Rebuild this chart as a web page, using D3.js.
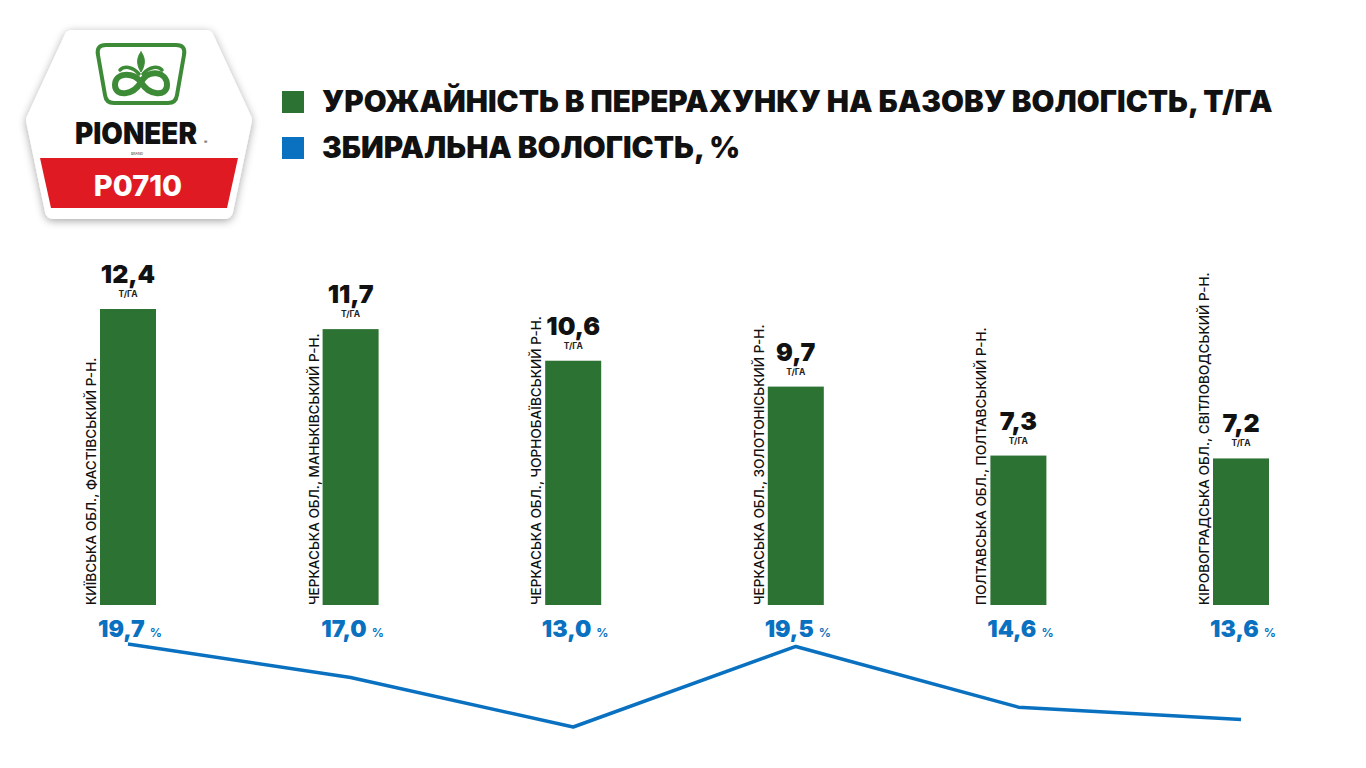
<!DOCTYPE html>
<html lang="uk">
<head>
  <meta charset="utf-8" />
  <title>P0710 — урожайність</title>
  <script src="https://cdn.jsdelivr.net/npm/d3@7/dist/d3.min.js"></script>
  <style>
    html,body{margin:0;padding:0;background:#fff;}
    svg{display:block;}
    text{font-family:Inter,"Noto Sans",sans-serif;}
  </style>
</head>
<body>
<svg id="chart" width="1366" height="768"></svg>
<script>
// дані
const regions = [
  'КИЇВСЬКА ОБЛ., ФАСТІВСЬКИЙ Р-Н.',
  'ЧЕРКАСЬКА ОБЛ., МАНЬКІВСЬКИЙ Р-Н.',
  'ЧЕРКАСЬКА ОБЛ., ЧОРНОБАЇВСЬКИЙ Р-Н.',
  'ЧЕРКАСЬКА ОБЛ., ЗОЛОТОНІСЬКИЙ Р-Н.',
  'ПОЛТАВСЬКА ОБЛ., ПОЛТАВСЬКИЙ Р-Н.',
  'КІРОВОГРАДСЬКА ОБЛ., СВІТЛОВОДСЬКИЙ Р-Н.'
];
const yieldVals = [12.4, 11.7, 10.6, 9.7, 7.3, 7.2];
const moisture  = [19.7, 17.0, 13.0, 19.5, 14.6, 13.6];
const legendLabels = ['УРОЖАЙНІСТЬ В ПЕРЕРАХУНКУ НА БАЗОВУ ВОЛОГІСТЬ, Т/ГА', 'ЗБИРАЛЬНА ВОЛОГІСТЬ, %'];
const yieldUnit = 'Т/ГА';
const moistUnit = '%';

const GREEN = '#2c7232', BLUE = '#0a71c0';
const svg = d3.select('#chart');
const fmt = d3.formatLocale({decimal: ',', thousands: ' ', grouping: [3], currency: ['', '']}).format('.1f');

// ----- логотип -----
const defs = svg.append('defs');
const f = defs.append('filter').attr('id','sh').attr('x','-20%').attr('y','-20%').attr('width','140%').attr('height','140%');
f.append('feDropShadow').attr('dx',0).attr('dy',2).attr('stdDeviation',4).attr('flood-color','#000').attr('flood-opacity',0.35);

const logo = svg.append('g');
logo.append('path')
  .attr('d','M72,38 L206,38 L244,120 L225,211 L53,211 L34,120 Z')
  .attr('fill','#fff').attr('stroke','#fff').attr('stroke-width',16).attr('stroke-linejoin','round')
  .attr('filter','url(#sh)');
logo.append('path')
  .attr('d','M40,158 L238,158 L227,208 L51,208 Z')
  .attr('fill','#e01a22');
// емблема
logo.append('path')
  .attr('d','M106,45 L176,45 Q186,45 184,55 L177,95 Q176,103 168,103 L114,103 Q106,103 105,95 L98,55 Q96,45 106,45 Z')
  .attr('fill','none').attr('stroke','#3d8b37').attr('stroke-width',4);
const em = logo.append('g').attr('fill','none').attr('stroke','#3d8b37').attr('stroke-linecap','round');
em.append('path').attr('d','M141,82 C133,72 115,72 115,85 C115,97 133,96 141,82 C149,68 167,72 167,85 C167,97 149,96 141,82 Z').attr('stroke-width',6);
em.append('path').attr('d','M141,52 C136,58 137,66 141,72 C145,66 146,58 141,52 Z').attr('fill','#3d8b37').attr('stroke-width',1);
em.append('path').attr('d','M139,74 C132,66 124,66 120,70').attr('stroke-width',3.5);
em.append('path').attr('d','M143,74 C150,66 158,66 162,70').attr('stroke-width',3.5);
logo.append('text').attr('x',136).attr('y',144).attr('text-anchor','middle')
  .attr('font-size',30).attr('font-weight',900).attr('fill','#111')
  .attr('textLength',122).attr('lengthAdjust','spacingAndGlyphs').text('PIONEER');
logo.append('text').attr('x',204).attr('y',144).attr('font-size',5).attr('fill','#111').text('®');
logo.append('text').attr('x',137).attr('y',155).attr('text-anchor','middle').attr('font-size',3.5).attr('fill','#333').text('BRAND');
logo.append('text').attr('x',138).attr('y',196).attr('text-anchor','middle')
  .attr('font-size',29).attr('font-weight',800).attr('fill','#fff').text('P0710');

// ----- легенда -----
const legend = svg.append('g').selectAll('g').data(legendLabels).join('g')
  .attr('transform',(d,i)=>`translate(282,${91 + i*46})`);
legend.append('rect').attr('width',22).attr('height',22).attr('fill',(d,i)=>i ? BLUE : GREEN);
legend.append('text').attr('x',40).attr('y',21)
  .attr('font-size',29.6).attr('font-weight',900).attr('fill','#111').text(d=>d);

// ----- шкали -----
const x = d3.scalePoint().domain(regions).range([128, 1241]);
const barW = 56;
const y = d3.scaleLinear().domain([2.1, 12.4]).range([605, 309]);
const yM = d3.scaleLinear().domain([13.0, 19.7]).range([727, 644]);

const rows = regions.map((r,i)=>({r, v: yieldVals[i], m: moisture[i]}));

// стовпці
svg.append('g').selectAll('rect').data(rows).join('rect')
  .attr('x',d=>x(d.r)-barW/2).attr('width',barW)
  .attr('y',d=>y(d.v)).attr('height',d=>y.range()[0]-y(d.v))
  .attr('fill',GREEN);

// підписи значень
const vl = svg.append('g').selectAll('g').data(rows).join('g')
  .attr('transform',d=>`translate(${x(d.r)},${y(d.v)})`);
vl.append('text').attr('y',-26).attr('text-anchor','middle')
  .attr('font-size',25).attr('font-weight',900).attr('fill','#111').text(d=>fmt(d.v));
vl.append('text').attr('y',-12).attr('text-anchor','middle')
  .attr('font-size',8.5).attr('font-weight',700).attr('fill','#222').text(yieldUnit);

// назви районів (вертикально)
svg.append('g').selectAll('text').data(rows).join('text')
  .attr('transform',d=>`translate(${x(d.r)-barW/2-4},${y.range()[0]}) rotate(-90)`)
  .attr('font-size',13.6).attr('font-weight',500).attr('fill','#111').text(d=>d.r);

// вологість: підписи
const ml = svg.append('g').selectAll('text').data(rows).join('text')
  .attr('x',d=>x(d.r)+2).attr('y',637).attr('text-anchor','middle').attr('fill',BLUE);
ml.append('tspan').attr('font-size',23).attr('font-weight',900).text(d=>fmt(d.m));
ml.append('tspan').attr('font-size',12).attr('font-weight',700).attr('dx',5).text(moistUnit);

// вологість: лінія
svg.append('path').datum(rows)
  .attr('d',d3.line().x(d=>x(d.r)).y(d=>yM(d.m)))
  .attr('fill','none').attr('stroke',BLUE).attr('stroke-width',3.5).attr('stroke-linejoin','round');
</script>
</body>
</html>
